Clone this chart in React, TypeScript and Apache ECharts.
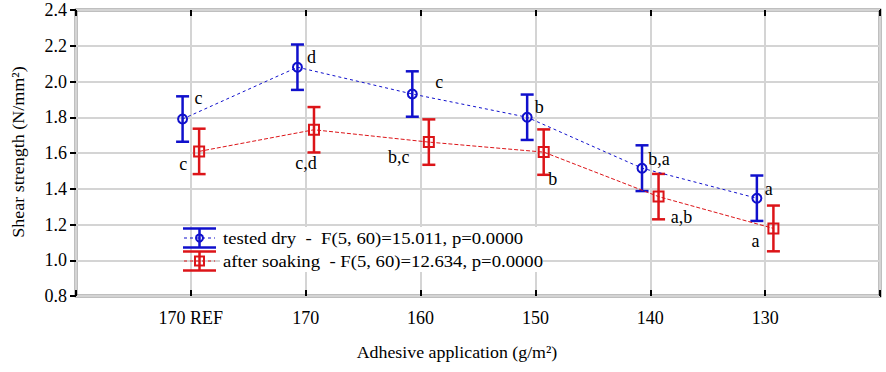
import React, { useEffect, useRef } from "react";
import * as echarts from "echarts";

const categories = ["170 REF", "170", "160", "150", "140", "130"];
const yTicks = ["0.8", "1.0", "1.2", "1.4", "1.6", "1.8", "2.0", "2.2", "2.4"];

const dryMeans = [1.79, 2.08, 1.93, 1.8, 1.515, 1.347];
const dryErrs = [0.127, 0.127, 0.127, 0.127, 0.128, 0.127];
const dryLetters = ["c", "d", "c", "b", "b,a", "a"];

const soakMeans = [1.609, 1.73, 1.661, 1.605, 1.356, 1.178];
const soakErrs = [0.127, 0.127, 0.127, 0.127, 0.127, 0.128];
const soakLetters = ["c", "c,d", "b,c", "b", "a,b", "a"];

const legendDry = "tested dry  -  F(5, 60)=15.011, p=0.0000";
const legendSoak = "after soaking  - F(5, 60)=12.634, p=0.0000";

// layout / style (not data)
const BLUE = "#1010cc";
const RED = "#dc1418";
const FONT = "Liberation Serif";
const SHIFT = 0.072;
const dryLabelOffsets: [number, number][] = [[16, -21], [14, -10], [27, -12], [12, -10], [17, -9], [12, -9]];
const soakLabelOffsets: [number, number][] = [[-16, 13], [-8, 33], [-30, 15], [9, 27], [23, 20], [-18, 13]];

function errorSeries(means: number[], errs: number[], shift: number, color: string) {
  return {
    type: "custom",
    z: 2,
    data: means.map((m, i) => [i + 1 + shift, m - errs[i], m + errs[i]]),
    renderItem: (params: any, api: any) => {
      const x = api.value(0);
      const top = api.coord([x, api.value(2)]);
      const bot = api.coord([x, api.value(1)]);
      const hw = 6.5;
      const style = { stroke: color, lineWidth: 2.5 };
      return {
        type: "group",
        children: [
          { type: "line", shape: { x1: top[0], y1: top[1], x2: bot[0], y2: bot[1] }, style },
          { type: "line", shape: { x1: top[0] - hw, y1: top[1], x2: top[0] + hw, y2: top[1] }, style },
          { type: "line", shape: { x1: bot[0] - hw, y1: bot[1], x2: bot[0] + hw, y2: bot[1] }, style },
        ],
      };
    },
  };
}

function lineSeries(means: number[], letters: string[], offsets: [number, number][], shift: number, color: string, symbol: string, size: number, dash: number[]) {
  return {
    type: "line",
    z: 3,
    symbol,
    symbolSize: size,
    showAllSymbol: true,
    lineStyle: { color, width: 1, type: dash },
    itemStyle: { color: "rgba(0,0,0,0)", borderColor: color, borderWidth: 2 },
    data: means.map((m, i) => ({
      value: [i + 1 + shift, m],
      label: {
        show: true,
        position: "inside",
        formatter: letters[i],
        offset: offsets[i],
        color: "#000",
        fontFamily: FONT,
        fontSize: 18,
        align: "center",
        verticalAlign: "middle",
      },
    })),
  };
}

export default function App() {
  const ref = useRef<HTMLDivElement>(null);
  useEffect(() => {
    if (!ref.current) return;
    const chart = echarts.init(ref.current, undefined, { renderer: "svg" });
    const gridLine = { show: true, lineStyle: { color: "#d4d4d4", width: 2 } };
    const legendIcon = (cy: number, color: string, marker: any) => [
      { type: "line", z: 10, shape: { x1: 183, y1: cy - 9.5, x2: 216, y2: cy - 9.5 }, style: { stroke: color, lineWidth: 2.5 } },
      { type: "line", z: 10, shape: { x1: 183, y1: cy + 9.5, x2: 216, y2: cy + 9.5 }, style: { stroke: color, lineWidth: 2.5 } },
      { type: "line", z: 10, shape: { x1: 199.5, y1: cy - 9.5, x2: 199.5, y2: cy + 9.5 }, style: { stroke: color, lineWidth: 2.5 } },
      { type: "line", z: 10, shape: { x1: 184, y1: cy, x2: 215, y2: cy }, style: { stroke: color, lineWidth: 1, lineDash: [3, 3] } },
      marker,
    ];
    chart.setOption({
      animation: false,
      backgroundColor: "#fff",
      textStyle: { fontFamily: FONT },
      grid: { left: 76, right: 6, top: 10, bottom: 76, show: true, borderColor: "#000", borderWidth: 2.5, backgroundColor: "transparent" },
      xAxis: [
        {
          type: "value",
          min: 0,
          max: 7,
          interval: 1,
          position: "bottom",
          axisLine: { show: false },
          axisTick: { show: true, inside: true, length: 6, lineStyle: { color: "#000", width: 2 } },
          axisLabel: {
            formatter: (v: number) => (v >= 1 && v <= 6 ? categories[v - 1] : ""),
            color: "#000",
            fontFamily: FONT,
            fontSize: 18,
            margin: 13,
          },
          splitLine: gridLine,
        },
        {
          type: "value",
          min: 0,
          max: 7,
          interval: 1,
          position: "top",
          axisLine: { show: false },
          axisTick: { show: true, inside: true, length: 6, lineStyle: { color: "#000", width: 2 } },
          axisLabel: { show: false },
          splitLine: { show: false },
        },
      ],
      yAxis: [
        {
          type: "value",
          min: 0.8,
          max: 2.4,
          interval: 0.2,
          axisLine: { show: false },
          axisTick: { show: false },
          axisLabel: {
            formatter: (v: number) => yTicks[Math.round((v - 0.8) / 0.2)] ?? "",
            color: "#000",
            fontFamily: FONT,
            fontSize: 18,
            margin: 9,
          },
          splitLine: gridLine,
        },
        {
          type: "value",
          min: 0.8,
          max: 2.4,
          interval: 0.2,
          position: "right",
          axisLine: { show: false },
          axisTick: { show: true, inside: true, length: 6, lineStyle: { color: "#000", width: 2 } },
          axisLabel: { show: false },
          splitLine: { show: false },
        },
      ],
      series: [
        errorSeries(dryMeans, dryErrs, -SHIFT, BLUE),
        errorSeries(soakMeans, soakErrs, SHIFT, RED),
        lineSeries(dryMeans, dryLetters, dryLabelOffsets, -SHIFT, BLUE, "circle", 9, [3, 3]),
        lineSeries(soakMeans, soakLetters, soakLabelOffsets, SHIFT, RED, "rect", 10, [4, 2]),
      ],
      graphic: [
        {
          type: "text",
          x: 18,
          y: 152,
          rotation: Math.PI / 2,
          scaleX: 1.06,
          style: { text: "Shear strength (N/mm²)", fill: "#000", fontFamily: FONT, fontSize: 17, align: "center", verticalAlign: "middle" },
        },
        {
          type: "text",
          x: 457,
          y: 352,
          scaleX: 1.05,
          style: { text: "Adhesive application (g/m²)", fill: "#000", fontFamily: FONT, fontSize: 17, align: "center", verticalAlign: "middle" },
        },
        { type: "rect", z: 5, shape: { x: 220, y: 227, width: 323, height: 45 }, style: { fill: "#fff" } },
        ...legendIcon(238, BLUE, { type: "circle", z: 10, shape: { cx: 199.5, cy: 238, r: 3.5 }, style: { fill: "none", stroke: BLUE, lineWidth: 2 } }),
        ...legendIcon(261, RED, { type: "rect", z: 10, shape: { x: 195, y: 256.5, width: 9, height: 9 }, style: { fill: "none", stroke: RED, lineWidth: 2 } }),
        { type: "text", z: 10, x: 223, y: 238, scaleX: 1.1, style: { text: legendDry, fill: "#000", fontFamily: FONT, fontSize: 17, verticalAlign: "middle" } },
        { type: "text", z: 10, x: 223, y: 261, scaleX: 1.1, style: { text: legendSoak, fill: "#000", fontFamily: FONT, fontSize: 17, verticalAlign: "middle" } },
      ],
    });
    return () => chart.dispose();
  }, []);
  return <div ref={ref} style={{ width: 886, height: 372, position: "absolute", left: 0, top: 0 }} />;
}
